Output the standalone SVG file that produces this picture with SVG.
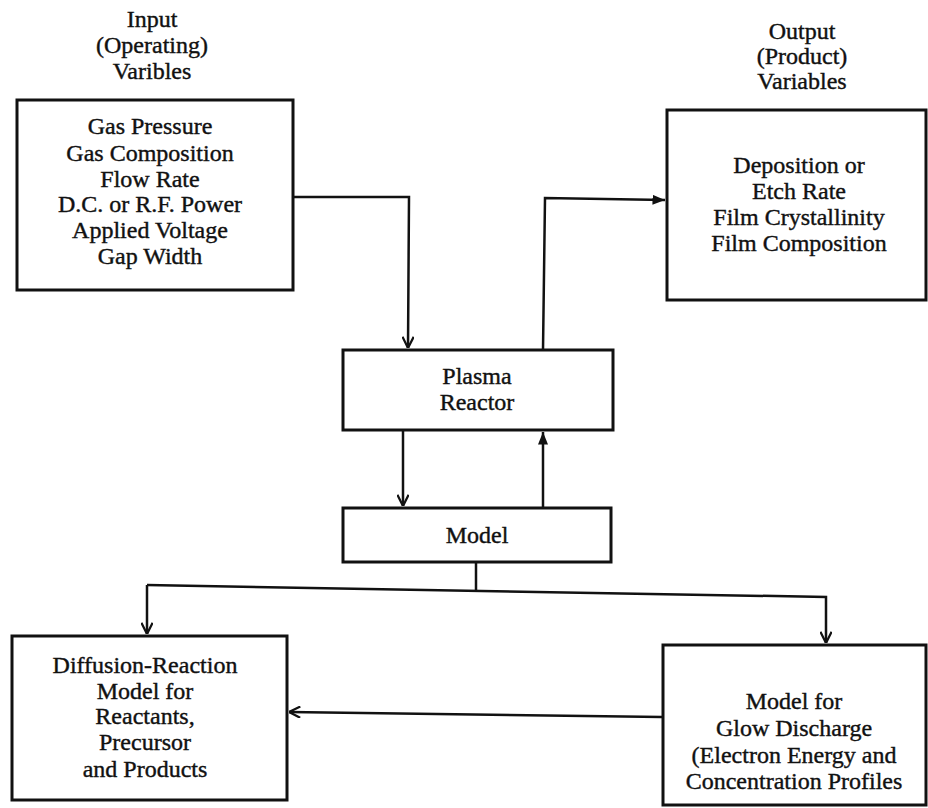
<svg xmlns="http://www.w3.org/2000/svg" width="928" height="808" viewBox="0 0 928 808">
<style>
  .box { fill: #fff; stroke: #111; stroke-width: 3; }
  .t { font-family: "Liberation Serif", "Times New Roman", serif; font-size: 24px; fill: #111; stroke: #111; stroke-width: 0.4; text-anchor: middle; }
  .c { fill: none; stroke: #111; stroke-width: 2.5; }
</style>
<defs>
  <marker id="af" viewBox="0 0 10 10" refX="10" refY="5" markerWidth="5" markerHeight="5" orient="auto" markerUnits="strokeWidth">
    <path d="M0,1 L10,5 L0,9 z" fill="#111"/>
  </marker>
  <marker id="av" viewBox="0 0 10 10" refX="10" refY="5" markerWidth="5" markerHeight="5" orient="auto" markerUnits="strokeWidth">
    <path d="M1,0.5 L10,5 L1,9.5" fill="none" stroke="#111" stroke-width="1.8"/>
  </marker>
</defs>
<rect width="928" height="808" fill="#fff"/>

<g id="input-label">
  <text class="t" x="152" y="27">Input</text>
  <text class="t" x="152" y="53">(Operating)</text>
  <text class="t" x="152" y="79">Varibles</text>
</g>
<g id="output-label">
  <text class="t" x="802" y="39">Output</text>
  <text class="t" x="802" y="64">(Product)</text>
  <text class="t" x="802" y="89">Variables</text>
</g>

<g id="input">
  <rect class="box" x="17" y="100" width="276" height="190"/>
  <text class="t" x="150" y="134">Gas Pressure</text>
  <text class="t" x="150" y="161">Gas Composition</text>
  <text class="t" x="150" y="187">Flow Rate</text>
  <text class="t" x="150" y="212">D.C. or R.F. Power</text>
  <text class="t" x="150" y="238">Applied Voltage</text>
  <text class="t" x="150" y="264">Gap Width</text>
</g>

<g id="output">
  <rect class="box" x="667" y="110" width="259" height="190"/>
  <text class="t" x="799" y="173">Deposition or</text>
  <text class="t" x="799" y="199">Etch Rate</text>
  <text class="t" x="799" y="225">Film Crystallinity</text>
  <text class="t" x="799" y="251">Film Composition</text>
</g>

<g id="plasma">
  <rect class="box" x="343" y="350" width="270" height="80"/>
  <text class="t" x="477" y="384">Plasma</text>
  <text class="t" x="477" y="410">Reactor</text>
</g>

<g id="model">
  <rect class="box" x="343" y="508" width="268" height="54"/>
  <text class="t" x="477" y="543">Model</text>
</g>

<g id="diffusion">
  <rect class="box" x="12" y="636" width="275" height="164"/>
  <text class="t" x="145" y="673">Diffusion-Reaction</text>
  <text class="t" x="145" y="699">Model for</text>
  <text class="t" x="145" y="724">Reactants,</text>
  <text class="t" x="145" y="750">Precursor</text>
  <text class="t" x="145" y="777">and Products</text>
</g>

<g id="glow">
  <rect class="box" x="663" y="645" width="263" height="160"/>
  <text class="t" x="794" y="709">Model for</text>
  <text class="t" x="794" y="736">Glow Discharge</text>
  <text class="t" x="794" y="763">(Electron Energy and</text>
  <text class="t" x="794" y="789">Concentration Profiles</text>
</g>

<g id="connectors">
  <polyline class="c" points="293,197 409,197 408,348" marker-end="url(#av)"/>
  <polyline class="c" points="543,350 545,198 665,200" marker-end="url(#af)"/>
  <line class="c" x1="403" y1="431" x2="403" y2="506" marker-end="url(#av)"/>
  <line class="c" x1="543" y1="507" x2="543" y2="432" marker-end="url(#af)"/>
  <line class="c" x1="476" y1="563" x2="476" y2="591"/>
  <polyline class="c" points="147,585 826,597 826,643" marker-end="url(#av)"/>
  <line class="c" x1="147" y1="585" x2="147" y2="634" marker-end="url(#av)"/>
  <line class="c" x1="662" y1="717" x2="289" y2="712" marker-end="url(#av)"/>
</g>
</svg>
